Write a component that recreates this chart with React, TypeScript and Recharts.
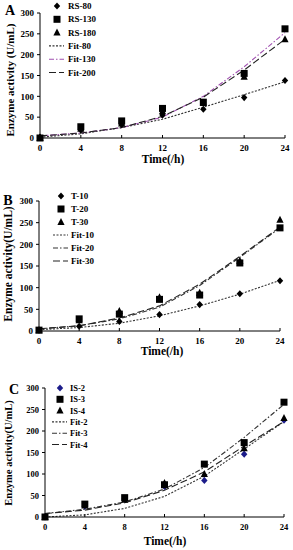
import React from 'react';
import { LineChart, Line, XAxis, YAxis } from 'recharts';

const hours = [0, 4, 8, 12, 16, 20, 24];
const yTicks = [0, 50, 100, 150, 200, 250, 300];

// Panel A
const rs80 = [2, 19, 32, 55, 69, 97, 138];
const rs130 = [0, 27, 41, 71, 86, 155, 262];
const rs180 = [0, 22, 35, 64, 84, 147, 237];
const fit80 = [2, 10, 25, 45, 74, 104, 135];
const fit130 = [5, 12, 25, 50, 100, 171, 253];
const fit200 = [5, 12, 25, 52, 98, 163, 237];

// Panel B
const t10 = [2, 11, 22, 38, 61, 86, 116];
const t20 = [2, 28, 39, 73, 83, 157, 238];
const t30 = [2, 25, 46, 78, 88, 162, 257];
const fit10 = [3, 8, 18, 35, 58, 85, 117];
const fit20 = [5, 12, 28, 55, 105, 170, 238];
const fit30 = [5, 12, 30, 58, 108, 172, 240];

// Panel C
const is2 = [0, 25, 42, 71, 85, 146, 225];
const is3 = [0, 30, 45, 75, 123, 173, 267];
const is4 = [0, 27, 40, 79, 100, 160, 230];
const fit2 = [0, 5, 20, 48, 95, 158, 222];
const fit3 = [8, 18, 35, 65, 115, 185, 262];
const fit4 = [8, 16, 33, 62, 105, 165, 222];

type Shape = 'diamond' | 'square' | 'triangle';
type Series = {
  name: string;
  values: number[];
  shape?: Shape;
  color: string;
  dash?: string;
};

const FONT = '"Liberation Serif", "Times New Roman", serif';

function marker(shape: Shape, cx: number, cy: number, color: string, key?: any) {
  if (cx == null || cy == null || isNaN(cx) || isNaN(cy)) return <g key={key} />;
  if (shape === 'square') {
    return <rect key={key} x={cx - 3.5} y={cy - 3.5} width={7} height={7} fill={color} />;
  }
  if (shape === 'diamond') {
    return (
      <polygon
        key={key}
        points={`${cx},${cy - 3.6} ${cx + 3.2},${cy} ${cx},${cy + 3.6} ${cx - 3.2},${cy}`}
        fill={color}
      />
    );
  }
  return (
    <polygon
      key={key}
      points={`${cx},${cy - 4} ${cx + 3.6},${cy + 3} ${cx - 3.6},${cy + 3}`}
      fill={color}
    />
  );
}

type PanelProps = {
  top: number;
  height: number;
  plot: { left: number; right: number; top: number; bottom: number };
  letter: string;
  letterPos: [number, number];
  yLabel: string;
  yLabelPos: [number, number];
  yLabelSize: number;
  xLabelPos: [number, number];
  legend: { mx: number; tx: number; y0: number; dy: number; size: number };
  series: Series[];
  tickSize: number;
};

function Panel(p: PanelProps) {
  const W = 293;
  const yw = 30;
  const xh = 20;
  const rows = hours.map((h, i) => {
    const r: any = { h };
    p.series.forEach((s, j) => {
      r['s' + j] = s.values[i];
    });
    return r;
  });
  const margin = {
    top: p.plot.top - p.top,
    left: p.plot.left - yw,
    right: W - p.plot.right,
    bottom: p.height - (p.plot.bottom - p.top) - xh,
  };
  const lines = p.series.map((s, j) => ({ s, j })).filter((o) => !o.s.shape);
  const marks = p.series.map((s, j) => ({ s, j })).filter((o) => o.s.shape);
  return (
    <div style={{ position: 'absolute', left: 0, top: p.top, width: W, height: p.height }}>
      <LineChart width={W} height={p.height} data={rows} margin={margin}>
        <XAxis
          dataKey="h"
          type="number"
          domain={[0, 24]}
          ticks={hours}
          interval={0}
          height={xh}
          stroke="#000"
          tickSize={-3}
          tickMargin={10}
          tick={{ fontSize: p.tickSize, fontFamily: FONT, fontWeight: 'bold', fill: '#000' }}
        />
        <YAxis
          type="number"
          domain={[0, 300]}
          ticks={yTicks}
          interval={0}
          width={yw}
          stroke="#000"
          tickSize={3}
          tickMargin={3}
          tick={{ fontSize: p.tickSize, fontFamily: FONT, fontWeight: 'bold', fill: '#000' }}
        />
        {lines.map(({ s, j }) => (
          <Line
            key={s.name}
            dataKey={'s' + j}
            name={s.name}
            stroke={s.color}
            strokeWidth={1.1}
            strokeDasharray={s.dash}
            dot={false}
            type="linear"
            isAnimationActive={false}
          />
        ))}
        {marks.map(({ s, j }) => (
          <Line
            key={s.name}
            dataKey={'s' + j}
            name={s.name}
            stroke="none"
            strokeWidth={0}
            dot={(d: any) => marker(s.shape as Shape, d.cx, d.cy, s.color, d.key ?? d.index)}
            activeDot={false}
            isAnimationActive={false}
          />
        ))}
      </LineChart>
      <svg
        width={W}
        height={p.height}
        style={{ position: 'absolute', left: 0, top: 0, pointerEvents: 'none' }}
        fontFamily={FONT}
        fontWeight="bold"
      >
        <text x={p.letterPos[0]} y={p.letterPos[1] - p.top} fontSize={14} textAnchor="middle" dominantBaseline="central">
          {p.letter}
        </text>
        <text
          x={0}
          y={0}
          fontSize={p.yLabelSize}
          textAnchor="middle"
          dominantBaseline="central"
          transform={`translate(${p.yLabelPos[0]},${p.yLabelPos[1] - p.top}) rotate(-90)`}
        >
          {p.yLabel}
        </text>
        <text x={p.xLabelPos[0]} y={p.xLabelPos[1] - p.top} fontSize={11.5} textAnchor="middle" dominantBaseline="central">
          Time(/h)
        </text>
        {p.series.map((s, i) => {
          const y = p.legend.y0 + i * p.legend.dy - p.top;
          return (
            <g key={s.name}>
              {s.shape ? (
                marker(s.shape, p.legend.mx, y, s.color)
              ) : (
                <line
                  x1={p.legend.mx - 8}
                  x2={p.legend.mx + 7}
                  y1={y}
                  y2={y}
                  stroke={s.color}
                  strokeWidth={1.1}
                  strokeDasharray={s.dash}
                />
              )}
              <text x={p.legend.tx} y={y} fontSize={p.legend.size} dominantBaseline="central">
                {s.name}
              </text>
            </g>
          );
        })}
      </svg>
    </div>
  );
}

const DOT = '2 1.5';
const DASHDOT = '5 2 1.5 2';
const DASH = '7 3';

export default function App() {
  return (
    <div style={{ position: 'absolute', left: 0, top: 0, width: 293, height: 550, background: '#fff' }}>
      <Panel
        top={0}
        height={185}
        plot={{ left: 40, right: 285, top: 13, bottom: 138 }}
        letter="A"
        letterPos={[10, 10]}
        yLabel="Enzyme activity (U/mL)"
        yLabelPos={[10, 80]}
        yLabelSize={11}
        xLabelPos={[163, 159]}
        tickSize={9}
        legend={{ mx: 57, tx: 68, y0: 6, dy: 13.3, size: 9 }}
        series={[
          { name: 'RS-80', values: rs80, shape: 'diamond', color: '#000' },
          { name: 'RS-130', values: rs130, shape: 'square', color: '#000' },
          { name: 'RS-180', values: rs180, shape: 'triangle', color: '#000' },
          { name: 'Fit-80', values: fit80, color: '#333', dash: DOT },
          { name: 'Fit-130', values: fit130, color: '#a050b0', dash: DASHDOT },
          { name: 'Fit-200', values: fit200, color: '#222', dash: DASH },
        ]}
      />
      <Panel
        top={185}
        height={180}
        plot={{ left: 39, right: 280, top: 201, bottom: 331 }}
        letter="B"
        letterPos={[8, 200]}
        yLabel="Enzyme activity(U/mL)"
        yLabelPos={[8, 264]}
        yLabelSize={11.5}
        xLabelPos={[162, 351]}
        tickSize={9}
        legend={{ mx: 61, tx: 71, y0: 196, dy: 13, size: 9 }}
        series={[
          { name: 'T-10', values: t10, shape: 'diamond', color: '#000' },
          { name: 'T-20', values: t20, shape: 'square', color: '#000' },
          { name: 'T-30', values: t30, shape: 'triangle', color: '#000' },
          { name: 'Fit-10', values: fit10, color: '#333', dash: DOT },
          { name: 'Fit-20', values: fit20, color: '#333', dash: DASHDOT },
          { name: 'Fit-30', values: fit30, color: '#222', dash: DASH },
        ]}
      />
      <Panel
        top={365}
        height={185}
        plot={{ left: 45, right: 284, top: 388, bottom: 517 }}
        letter="C"
        letterPos={[14, 389]}
        yLabel="Enzyme activity(U/mL)"
        yLabelPos={[8, 453]}
        yLabelSize={10.5}
        xLabelPos={[165, 541]}
        tickSize={8.5}
        legend={{ mx: 60, tx: 70, y0: 388, dy: 11.3, size: 8.5 }}
        series={[
          { name: 'IS-2', values: is2, shape: 'diamond', color: '#1c1c8a' },
          { name: 'IS-3', values: is3, shape: 'square', color: '#000' },
          { name: 'IS-4', values: is4, shape: 'triangle', color: '#000' },
          { name: 'Fit-2', values: fit2, color: '#333', dash: DOT },
          { name: 'Fit-3', values: fit3, color: '#333', dash: DASHDOT },
          { name: 'Fit-4', values: fit4, color: '#222', dash: DASH },
        ]}
      />
    </div>
  );
}
